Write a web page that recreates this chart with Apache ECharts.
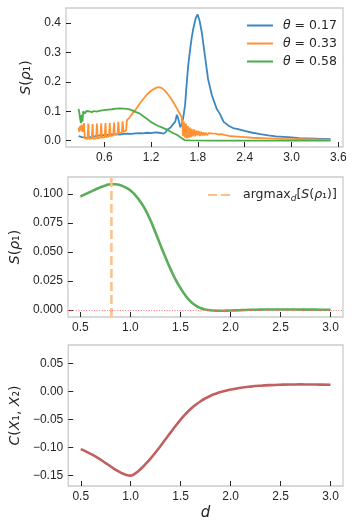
<!DOCTYPE html>
<html>
<head>
<meta charset="utf-8">
<script src="https://cdn.jsdelivr.net/npm/echarts@6/dist/echarts.min.js"></script>
<style>
  html, body { margin: 0; padding: 0; background: #fff; }
  #chart { width: 357px; height: 530px; }
</style>
</head>
<body>
<div id="chart"></div>
<script>
// top panel: S(rho_1) for three theta values
var thetaLabels = ['0.17', '0.33', '0.58'];

var blueD = [0.27, 0.29, 0.31, 0.33, 0.35, 0.38, 0.41, 0.45, 0.5, 0.55, 0.6, 0.65, 0.7, 0.75, 0.8, 0.85, 0.9, 0.95,
  1.0, 1.05, 1.1, 1.15, 1.2, 1.25, 1.3, 1.33, 1.36, 1.39, 1.41, 1.43, 1.45, 1.47, 1.49, 1.51, 1.53, 1.545, 1.56,
  1.575, 1.59, 1.61, 1.635, 1.655, 1.675, 1.7, 1.72, 1.74, 1.77, 1.795, 1.82, 1.85, 1.89, 1.93, 1.98, 2.04,
  2.08, 2.1, 2.13, 2.2, 2.25, 2.3, 2.4, 2.5, 2.6, 2.7, 2.8, 2.9, 3.0, 3.1, 3.2, 3.3, 3.4, 3.5];
var blueS = [0.016, 0.015, 0.012, 0.010, 0.011, 0.009, 0.012, 0.013, 0.016, 0.018, 0.019, 0.020, 0.021, 0.022, 0.021,
  0.023, 0.024, 0.023, 0.025, 0.026, 0.025, 0.027, 0.026, 0.028, 0.027, 0.026, 0.024, 0.030, 0.038, 0.033, 0.045,
  0.052, 0.048, 0.065, 0.088, 0.078, 0.062, 0.046, 0.055, 0.075, 0.12, 0.19, 0.255, 0.31, 0.35, 0.38, 0.415, 0.43,
  0.41, 0.368, 0.289, 0.21, 0.154, 0.109, 0.092, 0.088, 0.064, 0.05, 0.043, 0.040, 0.033, 0.027, 0.022, 0.018,
  0.015, 0.013, 0.011, 0.009, 0.008, 0.007, 0.006, 0.005];

var orangeD = [0.27, 0.28, 0.29, 0.30, 0.31, 0.32, 0.33, 0.34, 0.35, 0.385, 0.395, 0.405, 0.44, 0.45, 0.46, 0.495,
  0.505, 0.515, 0.55, 0.56, 0.57, 0.605, 0.615, 0.625, 0.66, 0.67, 0.68, 0.715, 0.725, 0.735, 0.77, 0.78, 0.79,
  0.825, 0.835, 0.845, 0.88, 0.89, 0.92, 0.96, 1.0, 1.05, 1.1, 1.15, 1.2, 1.25, 1.29, 1.33, 1.37, 1.41, 1.45, 1.49,
  1.53, 1.56, 1.59, 1.60, 1.61, 1.62, 1.635, 1.645, 1.66, 1.67, 1.685, 1.695, 1.71, 1.72, 1.735, 1.75, 1.765, 1.78,
  1.795, 1.81, 1.825, 1.84, 1.855, 1.87, 1.885, 1.90, 1.92, 1.94, 1.96, 1.98, 2.0, 2.03, 2.06, 2.1, 2.15, 2.2, 2.3,
  2.4, 2.5, 2.7, 2.9, 3.1, 3.3, 3.5];
var orangeS = [0.045, 0.030, 0.050, 0.035, 0.055, 0.030, 0.040, 0.060, 0.008, 0.006, 0.058, 0.006, 0.008, 0.057,
  0.006, 0.008, 0.058, 0.008, 0.010, 0.059, 0.010, 0.012, 0.060, 0.012, 0.015, 0.061, 0.016, 0.018, 0.062, 0.020,
  0.022, 0.064, 0.025, 0.028, 0.066, 0.030, 0.035, 0.070, 0.078, 0.092, 0.105, 0.125, 0.142, 0.158, 0.170, 0.178,
  0.182, 0.180, 0.172, 0.160, 0.145, 0.128, 0.110, 0.095, 0.080, 0.060, 0.015, 0.065, 0.010, 0.058, 0.008, 0.050,
  0.010, 0.045, 0.012, 0.040, 0.015, 0.038, 0.015, 0.035, 0.018, 0.033, 0.016, 0.030, 0.018, 0.028, 0.018, 0.027,
  0.019, 0.026, 0.020, 0.025, 0.020, 0.024, 0.021, 0.022, 0.019, 0.016, 0.014, 0.012, 0.010, 0.008, 0.006, 0.005,
  0.004, 0.003];

var greenD = [0.27, 0.28, 0.29, 0.30, 0.31, 0.32, 0.33, 0.35, 0.37, 0.39, 0.41, 0.44, 0.47, 0.50, 0.55, 0.60, 0.65,
  0.70, 0.75, 0.80, 0.85, 0.90, 0.95, 1.0, 1.05, 1.1, 1.15, 1.2, 1.25, 1.3, 1.33, 1.35, 1.38, 1.4, 1.43, 1.45, 1.48,
  1.5, 1.53, 1.55, 1.6, 1.63, 1.7, 2.0, 2.5, 3.0, 3.5];
var greenS = [0.108, 0.095, 0.075, 0.060, 0.088, 0.065, 0.100, 0.092, 0.101, 0.096, 0.100, 0.097, 0.101, 0.099,
  0.102, 0.104, 0.106, 0.107, 0.109, 0.110, 0.109, 0.108, 0.104, 0.098, 0.093, 0.083, 0.074, 0.063, 0.056, 0.049,
  0.046, 0.043, 0.040, 0.036, 0.034, 0.030, 0.026, 0.023, 0.020, 0.017, 0.007, 0.002, 0.001, 0.0005, 0.0003,
  0.0002, 0.0002];

// middle panel: S(rho_1) for the optimised theta
var midD = [0.5, 0.55, 0.6, 0.65, 0.7, 0.75, 0.8, 0.85, 0.9, 0.95, 1.0, 1.05, 1.1, 1.15, 1.2, 1.25, 1.3, 1.35, 1.4,
  1.45, 1.5, 1.55, 1.6, 1.65, 1.7, 1.75, 1.8, 1.85, 1.9, 1.95, 2.0, 2.1, 2.2, 2.3, 2.4, 2.5, 2.6, 2.7, 2.8, 2.9, 3.0];
var midS = [0.0980, 0.1000, 0.1020, 0.1040, 0.1060, 0.1075, 0.1086, 0.1086, 0.1076, 0.1058, 0.1032, 0.0990, 0.0935,
  0.0865, 0.0775, 0.0670, 0.0560, 0.0455, 0.0355, 0.0265, 0.0190, 0.0125, 0.0075, 0.0040, 0.0017, 0.0005, -0.0002,
  -0.0005, -0.0006, -0.0005, -0.0004, -0.0001, 0.0002, 0.0004, 0.0005, 0.0005, 0.0005, 0.0004, 0.0004, 0.0003,
  0.0003];
var argmaxD = 0.81;

// bottom panel: correlation C(X1, X2)
var botD = midD;
var botC = [-0.1030, -0.1070, -0.1115, -0.1165, -0.1220, -0.1280, -0.1340, -0.1400, -0.1450, -0.1488, -0.1505,
  -0.1460, -0.1385, -0.1295, -0.1195, -0.1085, -0.0970, -0.0850, -0.0730, -0.0612, -0.0500, -0.0400, -0.0312,
  -0.0237, -0.0172, -0.0118, -0.0073, -0.0037, -0.0007, 0.0017, 0.0037, 0.0068, 0.0090, 0.0106, 0.0117, 0.0124,
  0.0128, 0.0129, 0.0128, 0.0126, 0.0123];

var topXTicks = [0.6, 1.2, 1.8, 2.4, 3.0, 3.6];
var topYTicks = [0, 0.1, 0.2, 0.3, 0.4];
var dTicks = [0.5, 1.0, 1.5, 2.0, 2.5, 3.0];
var midYTicks = [0, 0.025, 0.05, 0.075, 0.1];
var botYTicks = [-0.15, -0.1, -0.05, 0, 0.05];

var textColor = '#262626';
var font = 'Liberation Sans, Arial, sans-serif';
var mathRich = {
  m: { fontFamily: 'DejaVu Sans', fontStyle: 'italic', fontSize: 12.5, color: textColor },
  s: { fontFamily: 'DejaVu Sans', fontStyle: 'italic', fontSize: 9, color: textColor, verticalAlign: 'bottom', lineHeight: 9 }
};

function pairs(xs, ys) {
  return xs.map(function (x, i) { return [x, ys[i]]; });
}

function fmt(v, digits) {
  var s = Math.abs(v).toFixed(digits);
  return v < -1e-9 ? '\u2212' + s : s;
}

function axis(grid, min, max, ticks, digits, extra) {
  var a = {
    type: 'value',
    gridIndex: grid,
    min: min,
    max: max,
    axisLine: { show: false, onZero: false },
    splitLine: { show: false },
    axisTick: { show: true, inside: true, length: 5, customValues: ticks, lineStyle: { color: textColor, width: 1 } },
    axisLabel: {
      customValues: ticks, margin: 5, color: textColor, fontSize: 12, fontFamily: font,
      formatter: function (v) { return fmt(v, digits); }
    }
  };
  return Object.assign(a, extra || {});
}

function yName(text, gap) {
  return {
    name: text,
    nameLocation: 'middle',
    nameGap: gap,
    nameRotate: 90,
    nameTextStyle: { fontSize: 14, color: textColor, fontFamily: 'DejaVu Sans', rich: {
      m: { fontFamily: 'DejaVu Sans', fontStyle: 'italic', fontSize: 14, color: textColor }
    } }
  };
}

var gridBox = { show: true, borderColor: '#cccccc', borderWidth: 1.3, left: 66, right: 14 };

var chart = echarts.init(document.getElementById('chart'), null, { renderer: 'canvas' });
var colors = ['#3b87c2', '#ff9333', '#4aac4a'];

var option = {
  animation: false,
  backgroundColor: '#fff',
  grid: [
    Object.assign({ top: 8, height: 139 }, gridBox),
    Object.assign({ top: 177, height: 140 }, gridBox),
    Object.assign({ top: 345, height: 141 }, gridBox)
  ],
  xAxis: [
    axis(0, 0.109, 3.66, topXTicks, 1),
    axis(1, 0.375, 3.125, dTicks, 1),
    axis(2, 0.375, 3.125, dTicks, 1, {
      name: 'd', nameLocation: 'middle', nameGap: 20,
      nameTextStyle: { fontSize: 15, fontStyle: 'italic', fontFamily: 'DejaVu Sans', color: textColor }
    })
  ],
  yAxis: [
    axis(0, -0.0215, 0.4515, topYTicks, 1, yName('{m|S}({m|ρ}₁)', 21)),
    axis(1, -0.006, 0.1148, midYTicks, 3, yName('{m|S}({m|ρ}₁)', 39)),
    axis(2, -0.169, 0.0835, botYTicks, 2, yName('{m|C}({m|X}₁, {m|X}₂)', 38))
  ],
  legend: [
    {
      data: thetaLabels.map(function (t) { return 'θ = ' + t; }),
      orient: 'vertical', left: 246, top: 19, padding: 0, itemGap: 5,
      itemWidth: 26, itemHeight: 12,
      itemStyle: { opacity: 0 },
      formatter: function (name) { return '{m|θ} ' + name.slice(2); },
      textStyle: { fontSize: 12.5, color: textColor, fontFamily: 'DejaVu Sans', padding: [0, 0, 0, 5], rich: mathRich }
    },
    {
      data: ['argmax'],
      left: 207, top: 187, padding: 0, itemWidth: 26, itemHeight: 14,
      itemStyle: { opacity: 0 },
      formatter: function () { return 'argmax{s|d}[{m|S}({m|ρ}₁)]'; },
      textStyle: { fontSize: 12.5, color: textColor, fontFamily: 'DejaVu Sans', lineHeight: 16, padding: [0, 0, 0, 4], rich: mathRich }
    }
  ],
  series: [
    { name: 'θ = ' + thetaLabels[0], type: 'line', xAxisIndex: 0, yAxisIndex: 0, symbol: 'none',
      data: pairs(blueD, blueS), lineStyle: { width: 1.8, color: colors[0] }, itemStyle: { color: colors[0] } },
    { name: 'θ = ' + thetaLabels[1], type: 'line', xAxisIndex: 0, yAxisIndex: 0, symbol: 'none',
      data: pairs(orangeD, orangeS), lineStyle: { width: 1.8, color: colors[1] }, itemStyle: { color: colors[1] } },
    { name: 'θ = ' + thetaLabels[2], type: 'line', xAxisIndex: 0, yAxisIndex: 0, symbol: 'none',
      data: pairs(greenD, greenS), lineStyle: { width: 1.8, color: colors[2] }, itemStyle: { color: colors[2] } },
    { name: 'S', type: 'line', xAxisIndex: 1, yAxisIndex: 1, symbol: 'none', smooth: true,
      data: pairs(midD, midS), lineStyle: { width: 2.6, color: '#5aae5a' },
      markLine: { silent: true, symbol: 'none', label: { show: false }, animation: false,
        lineStyle: { color: '#ff7070', type: [1, 1.6], width: 1 }, data: [{ yAxis: 0 }] } },
    { name: 'argmax', type: 'line', xAxisIndex: 1, yAxisIndex: 1, symbol: 'none',
      data: [[argmaxD, -0.006], [argmaxD, 0.1148]],
      lineStyle: { width: 2.5, color: '#ffbf86', type: [9, 4] }, itemStyle: { color: '#ffbf86' } },
    { name: 'C', type: 'line', xAxisIndex: 2, yAxisIndex: 2, symbol: 'none', smooth: true,
      data: pairs(botD, botC), lineStyle: { width: 2.6, color: '#c06060' } }
  ]
};

chart.setOption(option);
</script>
</body>
</html>
